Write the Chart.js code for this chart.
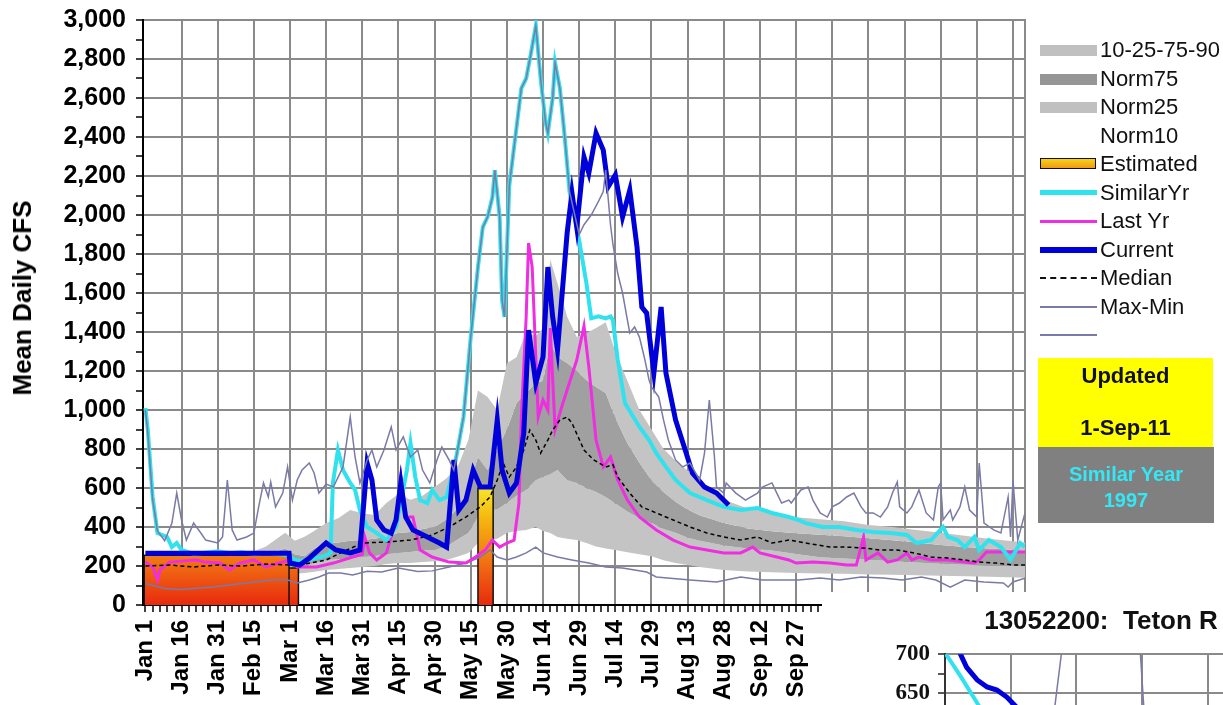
<!DOCTYPE html>
<html>
<head>
<meta charset="utf-8">
<title>Teton R - Mean Daily CFS</title>
<script src="https://cdn.jsdelivr.net/npm/chart.js@4.4.1/dist/chart.umd.min.js"></script>
<style>
  html, body { margin: 0; padding: 0; background: #fff; overflow: hidden; }
  body { width: 1223px; height: 705px; position: relative; font-family: 'Liberation Sans', Arial, sans-serif; }
  #main { position: absolute; left: 0; top: 0; }
  #yTitle { position: absolute; left: 22px; top: 298px; transform: translate(-50%, -50%) rotate(-90deg);
            font-size: 26px; font-weight: bold; color: #000; white-space: nowrap; line-height: 28px; }
  #insetWrap { position: absolute; left: 822px; top: 592px; width: 558px; height: 300px; background: #fff; }
  .lg-row { position: absolute; left: 1040px; height: 28px; width: 183px; }
  .lg-sym { position: absolute; left: 0; width: 57px; }
  .lg-txt { position: absolute; left: 60px; top: 2px; font-size: 22px; color: #111; white-space: nowrap; line-height: 24px; }
  .note { position: absolute; left: 1038px; text-align: center; font-weight: bold; }
</style>
</head>
<body>
<canvas id="main" width="1223" height="705"></canvas>
<div id="yTitle">Mean Daily CFS</div>
<div id="legend"></div>
<div class="note" style="top:358px; width:175px; height:89px; background:#FFFF00; color:#111; font-size:22px;">
  <div style="position:absolute; left:0; right:0; top:5px;">Updated</div>
  <div style="position:absolute; left:0; right:0; top:57px;">1-Sep-11</div>
</div>
<div class="note" style="top:447px; width:176px; height:76px; background:#808080; color:#33E8F4; font-size:20px;">
  <div style="position:absolute; left:0; right:0; top:16px;">Similar Year</div>
  <div style="position:absolute; left:0; right:0; top:42px;">1997</div>
</div>
<div id="insetWrap"><canvas id="inset" width="558" height="300"></canvas></div>

<script>
// ---------- données ----------
// axe X : jour de l'année (0 = 1er janvier)
const xTickLabels = ['Jan 1', 'Jan 16', 'Jan 31', 'Feb 15', 'Mar 1', 'Mar 16', 'Mar 31', 'Apr 15',
  'Apr 30', 'May 15', 'May 30', 'Jun 14', 'Jun 29', 'Jul 14', 'Jul 29', 'Aug 13', 'Aug 28',
  'Sep 12', 'Sep 27', 'Oct 12', 'Oct 27', 'Nov 11', 'Nov 26', 'Dec 11', 'Dec 26'];

// percentiles 10-25-75-90
const bandDays = [0, 10, 20, 30, 40, 50, 58, 62, 66, 70, 75, 80, 85, 90, 95, 100, 105, 110, 115, 120,
  125, 130, 134, 138, 142, 146, 150, 154, 158, 162, 165, 168, 171, 175, 179, 183, 187, 191, 195, 200,
  205, 210, 215, 220, 225, 230, 240, 250, 260, 270, 280, 290, 300, 310, 320, 330, 340, 350, 358, 365];
const norm90 = [240, 235, 245, 240, 250, 300, 370, 330, 350, 380, 420, 445, 487, 470, 462, 523, 570, 540, 560, 605,
  650, 720, 846, 1100, 1067, 1000, 1240, 1270, 1400, 1380, 1420, 1770, 1650, 1480, 1374, 1395, 1420, 1450, 1300, 1150,
  1000, 900, 800, 740, 690, 640, 540, 495, 475, 450, 440, 430, 410, 400, 385, 370, 355, 340, 330, 320];
const norm75 = [220, 215, 220, 215, 225, 260, 290, 260, 250, 290, 318, 320, 330, 333, 340, 350, 369, 375, 390, 400,
  440, 500, 600, 759, 692, 800, 900, 1036, 1087, 1138, 1150, 1344, 1272, 1241, 1200, 1154, 1118, 1087, 960, 830,
  730, 640, 580, 530, 490, 460, 420, 392, 378, 368, 360, 352, 342, 332, 320, 308, 297, 290, 285, 280];
const norm25 = [180, 178, 182, 178, 182, 195, 205, 195, 195, 215, 231, 235, 240, 246, 250, 260, 267, 272, 280, 282,
  300, 340, 369, 451, 487, 490, 523, 560, 590, 640, 656, 670, 692, 640, 626, 600, 580, 554, 520, 480,
  445, 420, 390, 370, 345, 330, 305, 290, 280, 262, 245, 238, 232, 225, 218, 212, 207, 203, 200, 200];
const norm10 = [150, 148, 152, 148, 152, 160, 168, 160, 164, 170, 180, 185, 190, 195, 200, 210, 215, 215, 220, 225,
  231, 250, 267, 318, 333, 340, 369, 380, 385, 400, 380, 369, 349, 340, 333, 318, 300, 290, 282, 270,
  260, 250, 230, 215, 205, 195, 180, 172, 168, 164, 162, 160, 157, 155, 152, 150, 147, 145, 142, 140];

// débits estimés (blocs)
const estStart = [-0.5, 59.6, 138];
const estEnd = [59.6, 63.5, 144.3];
const estFlow = [255, 190, 600];

// année en cours
const curDays = [0, 59.6, 60, 64, 68, 75, 79, 85, 89, 92, 94, 96, 99, 102, 104, 106, 108, 111, 117, 122,
  125, 128, 130, 133, 136, 139, 143, 146, 148, 151, 154, 157, 159, 162, 165, 167, 169, 171, 175, 177,
  179, 182, 184, 187, 190, 192, 195, 198, 201, 204, 206, 208, 211, 214, 216, 220, 224, 227, 232, 237, 242];
const curFlow = [265, 265, 215, 205, 240, 318, 282, 267, 282, 728, 641, 436, 385, 369, 436, 626, 451, 385, 349, 318,
  297, 744, 487, 538, 692, 605, 605, 949, 692, 574, 626, 882, 1410, 1138, 1272, 1733, 1477, 1308, 1908, 2113,
  1938, 2297, 2215, 2420, 2333, 2144, 2205, 1990, 2128, 1836, 1528, 1497, 1190, 1528, 1190, 949, 795, 677, 605, 574, 513];

// année similaire (1997)
const simDays = [0, 1, 3, 5, 7, 9, 11, 13, 15, 20, 25, 30, 35, 40, 45, 50, 55, 59, 62, 66,
  70, 74, 76.8, 77.8, 79.9, 82, 85, 87, 89, 92, 96, 100, 104, 108.5, 110, 112, 114, 117, 119, 122,
  125, 129, 132, 135, 138, 140, 142, 144, 145, 147, 148, 149, 151, 154, 156, 158, 160, 162, 164, 166,
  167, 169, 170, 172, 174, 176, 180, 183, 185, 188, 191, 193, 194, 196, 199, 205, 209, 212, 216, 220,
  226, 233, 240, 247, 254, 260, 267, 271, 274, 281, 288, 295, 302, 309, 316, 320, 326, 331, 333, 337,
  340, 344, 346, 350, 355, 359, 363, 365];
const simFlow = [1010, 897, 554, 369, 359, 349, 297, 318, 282, 262, 268, 275, 265, 270, 262, 265, 262, 255, 230, 225,
  240, 250, 267, 626, 795, 692, 626, 590, 487, 400, 369, 333, 400, 692, 831, 656, 538, 523, 590, 538,
  554, 759, 964, 1374, 1733, 1938, 1990, 2092, 2230, 1990, 1564, 1477, 2150, 2450, 2650, 2700, 2830, 2970, 2700, 2480,
  2420, 2600, 2780, 2650, 2400, 2120, 1870, 1650, 1470, 1480, 1470, 1480, 1460, 1256, 1036, 913, 846, 779, 708, 641,
  574, 538, 503, 487, 497, 472, 451, 436, 420, 400, 400, 385, 374, 369, 359, 318, 333, 400, 349, 333,
  297, 349, 282, 333, 297, 231, 318, 297];

// année dernière
const lastDays = [0, 3, 5, 6, 10, 21, 25, 31, 35, 39, 45, 50, 55, 60, 63, 71, 78, 86, 90, 91,
  93, 96, 100, 104, 106, 108, 111, 114, 119, 126, 133, 137, 141, 144, 147, 150, 153, 155, 156, 158,
  159, 160.5, 162, 163, 165, 167, 168, 170, 173, 175, 179, 182, 184, 187, 190, 193, 196, 200, 205, 212,
  219, 226, 233, 240, 247, 252, 255, 262, 267, 270, 277, 284, 291, 295, 298, 299, 304, 308, 312, 316,
  318, 321, 326, 333, 340, 344, 346, 349, 365];
const lastFlow = [220, 195, 128, 180, 220, 231, 220, 215, 180, 215, 231, 195, 215, 231, 195, 195, 215, 246, 260, 349,
  267, 231, 267, 436, 656, 451, 451, 282, 246, 220, 215, 246, 282, 333, 297, 318, 333, 523, 964, 1477,
  1856, 1733, 1272, 964, 1051, 1000, 1420, 900, 1026, 1103, 1256, 1431, 1220, 846, 708, 759, 641, 538, 451, 385,
  333, 297, 282, 267, 267, 297, 267, 246, 231, 215, 220, 215, 205, 205, 349, 231, 267, 220, 231, 267,
  231, 246, 231, 231, 220, 215, 231, 272, 272];

// médiane
const medDays = [0, 10, 20, 30, 40, 50, 60, 66, 75, 81, 90, 100, 110, 119, 126, 133, 139, 143, 146, 148.5,
  151, 154, 157, 159.5, 162, 164, 167, 169, 172, 175, 177, 182, 186, 191, 194, 196, 201, 206, 212, 219,
  226, 233, 240, 247, 254, 260, 267, 274, 284, 291, 298, 305, 312, 319, 326, 333, 340, 346, 353, 360, 365];
const medFlow = [200, 205, 195, 205, 200, 210, 205, 210, 231, 267, 318, 323, 333, 359, 400, 451, 503, 554, 641, 728,
  656, 708, 795, 897, 846, 779, 846, 897, 949, 964, 933, 795, 744, 708, 720, 656, 574, 503, 472, 436,
  400, 369, 349, 333, 349, 318, 333, 318, 297, 297, 292, 282, 282, 267, 246, 241, 231, 220, 215, 205, 205];

// max historique
const maxDays = [0, 1, 3, 5, 8, 11, 13, 15, 17, 20, 23, 25, 30, 32, 34, 36, 38, 42, 45, 47,
  49, 51, 52, 54, 57, 59, 61, 63, 65, 68, 70, 72, 75, 78, 82, 85, 87, 89, 92, 94,
  96, 99, 102, 104, 107, 110, 113, 115, 118, 121, 123, 126, 128, 132, 135, 138, 140, 142, 144, 145,
  147, 148, 149, 151, 154, 156, 158, 160, 162, 164, 166, 167, 169, 170, 172, 174, 176, 180, 182, 185,
  188, 190, 191, 193, 194, 196, 198, 200, 201, 203, 205, 207, 209, 210, 213, 215, 217, 220, 223, 226,
  230, 232, 234, 236, 237, 240, 241, 245, 249, 254, 256, 260, 262, 264, 267, 268, 272, 275, 277, 280,
  283, 285, 288, 291, 294, 297, 299, 302, 305, 308, 310, 312, 313, 316, 318, 321, 324, 327, 329, 330,
  331, 334, 335, 338, 340, 342, 345, 346, 348, 352, 355, 358, 359, 360, 362, 365];
const maxFlow = [1000, 880, 540, 380, 330, 420, 574, 436, 333, 420, 369, 333, 318, 349, 641, 385, 333, 349, 369, 503,
  626, 554, 631, 503, 574, 708, 538, 641, 692, 728, 677, 574, 620, 605, 708, 964, 759, 626, 744, 795,
  708, 795, 913, 795, 862, 759, 795, 692, 626, 744, 810, 744, 692, 964, 1374, 1733, 1938, 1990, 2092, 2230,
  1990, 1564, 1477, 2150, 2450, 2650, 2700, 2830, 2970, 2700, 2480, 2420, 2600, 2780, 2650, 2400, 2120, 1900, 1950, 2000,
  2070, 2120, 2230, 1950, 1850, 1700, 1600, 1462, 1395, 1426, 1374, 1272, 1154, 1118, 1067, 949, 846, 744, 708, 728,
  641, 779, 1051, 779, 605, 574, 626, 574, 538, 574, 605, 626, 574, 523, 538, 523, 590, 605, 538, 472,
  451, 503, 523, 554, 574, 503, 472, 472, 451, 503, 574, 631, 503, 472, 503, 590, 472, 436, 605, 626,
  436, 487, 436, 503, 605, 487, 451, 728, 420, 385, 369, 554, 349, 641, 333, 472];

// min historique
const minDays = [0, 8, 15, 28, 42, 52, 59, 63, 68, 72, 76, 81, 86, 92, 98, 105, 113, 119, 126, 133,
  139, 143, 146, 150, 154, 158, 162, 165, 171, 177, 184, 191, 198, 208, 212, 226, 237, 247, 256, 267,
  271, 280, 288, 297, 306, 314, 322, 328, 334, 340, 348, 356, 358, 360, 365];
const minFlow = [110, 85, 80, 92, 113, 128, 128, 113, 128, 144, 164, 164, 154, 173, 169, 190, 172, 175, 195, 215,
  246, 282, 246, 231, 246, 267, 297, 267, 246, 231, 215, 195, 190, 169, 144, 128, 118, 144, 128, 128,
  128, 138, 128, 144, 138, 128, 144, 128, 92, 128, 118, 113, 92, 118, 138];

// encart (zoom) : position en unités de grille, débit
const insetCurPos = [0, 0.23, 0.33, 0.49, 0.64, 0.79, 0.94, 1.09, 1.4];
const insetCurFlow = [730, 701, 683, 667, 658, 654, 645, 632, 605];
const insetSimPos = [0, 0.25, 0.53, 0.8];
const insetSimFlow = [702, 670, 632, 600];
const insetMaxPos = [1.5, 1.67, 1.8, 2.4, 2.97, 3.05];
const insetMaxFlow = [600, 632, 720, 900, 705, 600];

// ---------- styles ----------
const FONT = "'Liberation Sans', Arial, sans-serif";
const GRID = '#8a8a8a';
const C_CYAN = '#30E2EE';
const C_MAG = '#EE2EE0';
const C_BLUE = '#0000D8';
const C_MAXMIN = '#7A7AA6';
const C_LIGHT = '#C4C4C4';
const C_DARK = '#A0A0A0';

const pts = (xs, ys) => xs.map((x, i) => ({ x, y: ys[i] }));

// polygones des blocs "Estimated"
const estPoints = [];
estStart.forEach((s, i) => {
  estPoints.push({ x: s, y: 0 }, { x: s, y: estFlow[i] }, { x: estEnd[i], y: estFlow[i] }, { x: estEnd[i], y: 0 }, { x: estEnd[i], y: null });
});

function estGradient(context) {
  const chart = context.chart;
  const { ctx, chartArea, scales } = chart;
  if (!chartArea) return '#F08020';
  const g = ctx.createLinearGradient(0, scales.y.getPixelForValue(620), 0, scales.y.getPixelForValue(0));
  g.addColorStop(0, '#F6EC2A');
  g.addColorStop(0.3, '#F5B40E');
  g.addColorStop(0.6, '#F27A14');
  g.addColorStop(1, '#E82A0E');
  return g;
}

const xTickDays = [];
for (let d = 0; d <= 363; d += 3) xTickDays.push(d);
const yTickValues = [];
for (let v = 0; v <= 3000; v += 100) yTickValues.push(v);

const lineBase = { pointRadius: 0, pointHoverRadius: 0, tension: 0, fill: false, spanGaps: false };

new Chart(document.getElementById('main'), {
  type: 'line',
  data: {
    datasets: [
      { ...lineBase, label: 'Norm10', data: pts(bandDays, norm10), borderWidth: 0, borderColor: 'transparent', order: 10 },
      { ...lineBase, label: 'Norm25', data: pts(bandDays, norm25), borderWidth: 0, borderColor: 'transparent', backgroundColor: C_LIGHT, fill: '-1', order: 9 },
      { ...lineBase, label: 'Norm75', data: pts(bandDays, norm75), borderWidth: 0, borderColor: 'transparent', backgroundColor: C_DARK, fill: '-1', order: 8 },
      { ...lineBase, label: '10-25-75-90', data: pts(bandDays, norm90), borderWidth: 0, borderColor: 'transparent', backgroundColor: C_LIGHT, fill: '-1', order: 7 },
      { ...lineBase, label: 'Estimated', data: estPoints, borderColor: '#111', borderWidth: 1.5, backgroundColor: estGradient, fill: 'origin', order: 6 },
      { ...lineBase, label: 'Min', data: pts(minDays, minFlow), borderColor: C_MAXMIN, borderWidth: 1.5, order: 5 },
      { ...lineBase, label: 'Last Yr', data: pts(lastDays, lastFlow), borderColor: C_MAG, borderWidth: 3, order: 3 },
      { ...lineBase, label: 'Median', data: pts(medDays, medFlow), borderColor: '#000', borderWidth: 1.5, borderDash: [4, 3], order: 2.5 },
      { ...lineBase, label: 'SimilarYr', data: pts(simDays, simFlow), borderColor: C_CYAN, borderWidth: 4, order: 2 },
      { ...lineBase, label: 'Current', data: pts(curDays, curFlow), borderColor: C_BLUE, borderWidth: 5, order: 1 },
      // le max est tracé par-dessus (il se confond avec l'année similaire en mai-juin)
      { ...lineBase, label: 'Max-Min', data: pts(maxDays, maxFlow), borderColor: C_MAXMIN, borderWidth: 1.5, order: 0 }
    ]
  },
  options: {
    responsive: false,
    animation: false,
    events: [],
    layout: { padding: { top: 20, right: 198, bottom: 0, left: 0 } },
    plugins: { legend: { display: false }, title: { display: false }, tooltip: { enabled: false } },
    scales: {
      x: {
        type: 'linear', min: -1, max: 365,
        afterBuildTicks: s => { s.ticks = xTickDays.map(v => ({ value: v })); },
        afterFit: s => { s.height = 100; s.paddingLeft = 0; s.paddingRight = 0; },
        ticks: {
          autoSkip: false, minRotation: 90, maxRotation: 90, padding: 8, color: '#000',
          font: { family: FONT, size: 24, weight: 'bold' },
          callback: v => (v % 15 === 0 ? xTickLabels[v / 15] : '')
        },
        grid: {
          color: c => (c.tick && c.tick.value % 15 === 0 && c.tick.value > 0 ? GRID : 'transparent'),
          lineWidth: 2, tickColor: '#000', tickLength: 7, tickWidth: 1.5
        },
        border: { color: '#000', width: 2 }
      },
      y: {
        min: 0, max: 3000,
        afterBuildTicks: s => { s.ticks = yTickValues.map(v => ({ value: v })); },
        afterFit: s => { s.width = 143; s.paddingTop = 0; s.paddingBottom = 0; },
        ticks: {
          autoSkip: false, padding: 10, color: '#000',
          font: { family: FONT, size: 25, weight: 'bold' },
          callback: v => (v % 200 === 0 ? v.toLocaleString('en-US') : '')
        },
        grid: {
          color: c => (c.tick && c.tick.value % 200 === 0 ? GRID : 'transparent'),
          lineWidth: 2, tickColor: '#000', tickLength: 7, tickWidth: 1.5
        },
        border: { color: '#000', width: 2 }
      },
      yr: {
        position: 'right', display: true,
        afterFit: s => { s.width = 0; s.paddingTop = 0; s.paddingBottom = 0; },
        ticks: { display: false },
        grid: { display: false },
        border: { color: GRID, width: 2 }
      }
    }
  }
});

// ---------- encart "13052200: Teton R" ----------
new Chart(document.getElementById('inset'), {
  type: 'line',
  data: {
    datasets: [
      { ...lineBase, data: pts(insetCurPos, insetCurFlow), borderColor: C_BLUE, borderWidth: 5 },
      { ...lineBase, data: pts(insetSimPos, insetSimFlow), borderColor: C_CYAN, borderWidth: 4 },
      { ...lineBase, data: pts(insetMaxPos, insetMaxFlow), borderColor: C_MAXMIN, borderWidth: 1.5 }
    ]
  },
  options: {
    responsive: false,
    animation: false,
    events: [],
    layout: { padding: 0 },
    plugins: {
      legend: { display: false },
      tooltip: { enabled: false },
      title: {
        display: true, text: '13052200:  Teton R', color: '#111',
        font: { family: FONT, size: 26, weight: 'bold' },
        padding: { top: 14, bottom: 17 }
      }
    },
    scales: {
      x: {
        type: 'linear', min: 0, max: 6.62,
        afterBuildTicks: s => { s.ticks = [0, 1, 2, 3, 4, 5, 6].map(v => ({ value: v })); },
        afterFit: s => { s.height = 4; s.paddingLeft = 0; s.paddingRight = 0; },
        ticks: { display: false },
        grid: { color: c => (c.tick && c.tick.value > 0 ? GRID : 'transparent'), lineWidth: 2, drawTicks: false },
        border: { display: false }
      },
      y: {
        min: 400, max: 700,
        afterBuildTicks: s => { s.ticks = [400, 425, 450, 475, 500, 525, 550, 575, 600, 625, 650, 675, 700].map(v => ({ value: v })); },
        afterFit: s => { s.width = 123; s.paddingTop = 0; s.paddingBottom = 0; },
        ticks: {
          autoSkip: false, padding: 8, color: '#111',
          font: { family: "'Liberation Serif', 'Times New Roman', serif", size: 23, weight: 'bold' },
          callback: v => (v % 50 === 0 ? String(v) : '')
        },
        grid: {
          color: c => (c.tick && c.tick.value % 50 === 0 ? GRID : 'transparent'),
          lineWidth: 2, tickColor: '#222', tickLength: 7, tickWidth: 1.5
        },
        border: { color: '#333', width: 2 }
      }
    }
  }
});

// ---------- légende ----------
const legendItems = [
  { label: '10-25-75-90', sym: 'box', color: '#C0C0C0' },
  { label: 'Norm75', sym: 'box', color: '#969696' },
  { label: 'Norm25', sym: 'box', color: '#C0C0C0' },
  { label: 'Norm10', sym: 'none' },
  { label: 'Estimated', sym: 'est' },
  { label: 'SimilarYr', sym: 'line', color: C_CYAN, w: 5 },
  { label: 'Last Yr', sym: 'line', color: C_MAG, w: 3 },
  { label: 'Current', sym: 'line', color: C_BLUE, w: 6 },
  { label: 'Median', sym: 'dash' },
  { label: 'Max-Min', sym: 'line', color: C_MAXMIN, w: 2 },
  { label: '', sym: 'line', color: C_MAXMIN, w: 2 }
];
const legendEl = document.getElementById('legend');
legendItems.forEach((it, i) => {
  const row = document.createElement('div');
  row.className = 'lg-row';
  row.style.top = (36 + i * 28.5) + 'px';
  const sym = document.createElement('div');
  sym.className = 'lg-sym';
  if (it.sym === 'box') {
    Object.assign(sym.style, { top: '9px', height: '11px', background: it.color });
  } else if (it.sym === 'est') {
    Object.assign(sym.style, { top: '8px', height: '9px', width: '54px', border: '1.5px solid #111',
      background: 'linear-gradient(#F6D21A, #F29A10)' });
  } else if (it.sym === 'line') {
    Object.assign(sym.style, { top: (14 - it.w / 2) + 'px', height: it.w + 'px', background: it.color });
  } else if (it.sym === 'dash') {
    Object.assign(sym.style, { top: '13px', height: '0', borderTop: '2px dashed #111' });
  }
  row.appendChild(sym);
  const txt = document.createElement('div');
  txt.className = 'lg-txt';
  txt.textContent = it.label;
  row.appendChild(txt);
  legendEl.appendChild(row);
});
</script>
</body>
</html>
